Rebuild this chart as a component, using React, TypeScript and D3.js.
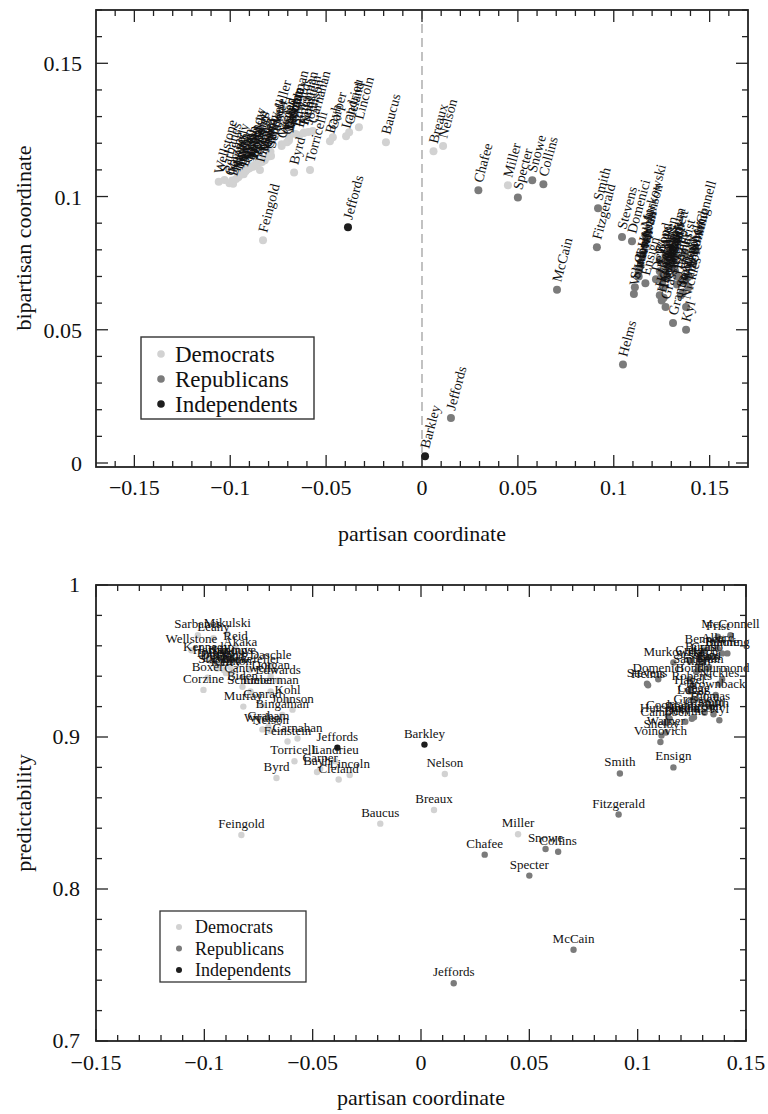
import React from 'react';
import * as d3 from 'd3';

// ---------- DATA ----------
const senatorNames = [
  'Wellstone','Sarbanes','Corzine','Boxer','Kennedy','Leahy','Harkin','Durbin','Levin','Dayton',
  'Reed','Mikulski','Stabenow','Kerry','Dodd','Schumer','Clinton','Reid','Akaka','Inouye',
  'Murray','Biden','Cantwell','Rockefeller','Conrad','Wyden','Nelson','Graham','Daschle','Lieberman',
  'Dorgan','Edwards','Bingaman','Kohl','Feinstein','Johnson','Carnahan','Hollings','Byrd','Torricelli',
  'Bayh','Carper','Landrieu','Cleland','Lincoln','Baucus','Feingold','Breaux','Nelson','Miller',
  'Jeffords','Barkley',
  'Jeffords','Chafee','Specter','Snowe','Collins','McCain','Smith','Fitzgerald','Stevens','Domenici',
  'Helms','Hutchinson','Ensign','Voinovich','Shelby','Warner','Campbell','Cochran','Murkowski','Lugar',
  'Gramm','Kyl','Nickles','McConnell','Frist','Bennett','Bunning','Thurmond','Brownback','Craig',
  'Sessions','Crapo','Inhofe','Santorum','Allard','Allen','Bond','Burns','DeWine','Enzi',
  'Grassley','Gregg','Hagel','Hatch','Hutchison','Lott','Roberts','Smith','Thomas','Thompson'
];

const senatorParty = [
  'D','D','D','D','D','D','D','D','D','D',
  'D','D','D','D','D','D','D','D','D','D',
  'D','D','D','D','D','D','D','D','D','D',
  'D','D','D','D','D','D','D','D','D','D',
  'D','D','D','D','D','D','D','D','D','D',
  'I','I',
  'R','R','R','R','R','R','R','R','R','R',
  'R','R','R','R','R','R','R','R','R','R',
  'R','R','R','R','R','R','R','R','R','R',
  'R','R','R','R','R','R','R','R','R','R',
  'R','R','R','R','R','R','R','R','R','R'
];

const partisanCoord = [
  -0.106,-0.103,-0.1004,-0.0985,-0.099,-0.0958,-0.097,-0.095,-0.094,-0.093,
  -0.092,-0.0894,-0.091,-0.090,-0.088,-0.0787,-0.087,-0.0856,-0.0834,-0.0845,
  -0.082,-0.0824,-0.080,-0.079,-0.0732,-0.0732,-0.0694,-0.0704,-0.0694,-0.0694,
  -0.0694,-0.066,-0.064,-0.0616,-0.0616,-0.0593,-0.057,-0.088,-0.0667,-0.0584,
  -0.048,-0.0465,-0.0396,-0.038,-0.0329,-0.0188,-0.0829,0.006,0.011,0.0448,
  -0.0386,0.0016,
  0.0151,0.0294,0.050,0.0575,0.0633,0.0704,0.0918,0.0912,0.1043,0.1095,
  0.1048,0.1148,0.1165,0.1105,0.111,0.113,0.113,0.114,0.1165,0.1253,
  0.1309,0.1377,0.1377,0.1428,0.137,0.131,0.1414,0.139,0.136,0.124,
  0.128,0.132,0.139,0.128,0.137,0.127,0.124,0.129,0.122,0.133,
  0.127,0.126,0.124,0.130,0.125,0.132,0.125,0.135,0.133,0.126
];

const bipartisanCoord = [
  0.1055,0.1062,0.1050,0.1048,0.1060,0.1072,0.1066,0.1080,0.1088,0.1084,
  0.1095,0.1110,0.1102,0.1106,0.1115,0.1152,0.1120,0.1125,0.1130,0.1100,
  0.1136,0.1140,0.1150,0.1168,0.1190,0.1196,0.1210,0.1204,0.1215,0.1222,
  0.1226,0.1235,0.1230,0.1240,0.1238,0.1242,0.1246,0.1112,0.1090,0.1100,
  0.1207,0.1222,0.1226,0.1241,0.1260,0.1204,0.0836,0.1170,0.1190,0.1042,
  0.0885,0.0025,
  0.0169,0.1024,0.0996,0.1061,0.1046,0.0650,0.0956,0.0810,0.0848,0.0832,
  0.0370,0.0780,0.0675,0.0634,0.066,0.070,0.072,0.074,0.0855,0.068,
  0.0525,0.0500,0.0585,0.0800,0.0790,0.0760,0.0750,0.0700,0.0640,0.072,
  0.070,0.072,0.066,0.073,0.068,0.078,0.076,0.074,0.069,0.070,
  0.0585,0.066,0.063,0.075,0.061,0.077,0.070,0.063,0.067,0.062
];

const predictability = [
  0.957,0.967,0.931,0.939,0.952,0.965,0.950,0.948,0.945,0.947,
  0.949,0.968,0.944,0.942,0.946,0.930,0.943,0.959,0.955,0.950,
  0.920,0.933,0.938,0.944,0.921,0.905,0.904,0.9066,0.947,0.930,
  0.940,0.937,0.9145,0.924,0.897,0.918,0.899,0.950,0.873,0.884,
  0.877,0.879,0.884,0.872,0.875,0.843,0.8355,0.852,0.8757,0.836,
  0.893,0.895,
  0.738,0.8226,0.8088,0.8263,0.8245,0.760,0.876,0.849,0.935,0.938,
  0.934,0.912,0.880,0.8967,0.901,0.903,0.909,0.914,0.949,0.924,
  0.916,0.911,0.935,0.967,0.966,0.957,0.955,0.938,0.9276,0.950,
  0.947,0.952,0.955,0.944,0.958,0.943,0.938,0.952,0.910,0.946,
  0.918,0.925,0.930,0.949,0.912,0.945,0.933,0.915,0.920,0.913
];

const partyKeys = ['D', 'R', 'I'];
const partyLabels = ['Democrats', 'Republicans', 'Independents'];
const partyColors: Record<string, string> = { D: '#d2d2d2', R: '#7b7b7b', I: '#1e1e1e' };

const topXTicks = [-0.15, -0.1, -0.05, 0, 0.05, 0.1, 0.15];
const topXTickLabels = ['\u22120.15', '\u22120.1', '\u22120.05', '0', '0.05', '0.1', '0.15'];
const topYTicks = [0, 0.05, 0.1, 0.15];
const topYTickLabels = ['0', '0.05', '0.1', '0.15'];
const botXTicks = [-0.15, -0.1, -0.05, 0, 0.05, 0.1, 0.15];
const botXTickLabels = ['\u22120.15', '\u22120.1', '\u22120.05', '0', '0.05', '0.1', '0.15'];
const botYTicks = [0.7, 0.8, 0.9, 1];
const botYTickLabels = ['0.7', '0.8', '0.9', '1'];

const FONT = '"Liberation Serif", "Times New Roman", "DejaVu Serif", serif';
const TXT: React.CSSProperties = { fontFamily: FONT };
const AX = '#222';

type FrameProps = {
  xs: d3.ScaleLinear<number, number>;
  ys: d3.ScaleLinear<number, number>;
  xMajor: number[];
  xMinor: number[];
  yMajor: number[];
  yMinor: number[];
};

function Frame({ xs, ys, xMajor, xMinor, yMajor, yMinor }: FrameProps) {
  const [x0, x1] = xs.range();
  const [y0, y1] = ys.range(); // y0 bottom, y1 top
  const lines: React.ReactElement[] = [];
  const add = (key: string, a: number, b: number, c: number, d: number) =>
    lines.push(<line key={key} x1={a} y1={b} x2={c} y2={d} stroke={AX} strokeWidth={1.3} />);
  xMajor.forEach((v, i) => {
    const x = xs(v);
    add('xb' + i, x, y0, x, y0 - 12);
    add('xt' + i, x, y1, x, y1 + 12);
  });
  xMinor.forEach((v, i) => {
    const x = xs(v);
    add('xbm' + i, x, y0, x, y0 - 6);
    add('xtm' + i, x, y1, x, y1 + 6);
  });
  yMajor.forEach((v, i) => {
    const y = ys(v);
    add('yl' + i, x0, y, x0 + 12, y);
    add('yr' + i, x1, y, x1 - 12, y);
  });
  yMinor.forEach((v, i) => {
    const y = ys(v);
    add('ylm' + i, x0, y, x0 + 6, y);
    add('yrm' + i, x1, y, x1 - 6, y);
  });
  return (
    <g>
      {lines}
      <rect x={x0} y={y1} width={x1 - x0} height={y0 - y1} fill="none" stroke={AX} strokeWidth={1.8} />
    </g>
  );
}

function isMajor(v: number, step: number) {
  return Math.abs(v / step - Math.round(v / step)) < 1e-6;
}

export default function App() {
  const n = senatorNames.length;
  const idx = d3.range(n);

  const xT = d3.scaleLinear().domain([-0.17, 0.17]).range([96, 748]);
  const yT = d3.scaleLinear().domain([-0.0015, 0.17]).range([467, 10]);
  const xB = d3.scaleLinear().domain([-0.15, 0.15]).range([96, 746]);
  const yB = d3.scaleLinear().domain([0.7, 1]).range([1041, 585]);

  const topXMinor = d3.range(-16, 17).map((i) => i / 100).filter((v) => !isMajor(v, 0.05));
  const topYMinor = d3.range(0, 18).map((i) => i / 100).filter((v) => !isMajor(v, 0.05));
  const botXMinor = d3.range(-14, 15).map((i) => i / 100).filter((v) => !isMajor(v, 0.05));
  const botYMinor = d3.range(36, 50).map((i) => i / 50).filter((v) => !isMajor(v, 0.1));

  const order = [...idx].sort((a, b) => partyKeys.indexOf(senatorParty[a]) - partyKeys.indexOf(senatorParty[b]));

  return (
    <svg
      width={768}
      height={1114}
      style={{ position: 'absolute', left: 0, top: 0, background: '#fff', fontFamily: FONT }}
    >
      <rect x={0} y={0} width={768} height={1114} fill="#fff" />

      {/* ---------- TOP PANEL ---------- */}
      <line x1={xT(0)} x2={xT(0)} y1={yT.range()[1]} y2={yT.range()[0]} stroke="#999" strokeWidth={1.2} strokeDasharray="9,5" />
      {order.map((i) => (
        <circle key={'td' + i} cx={xT(partisanCoord[i])} cy={yT(bipartisanCoord[i])} r={4} fill={partyColors[senatorParty[i]]} />
      ))}
      {order.map((i) => {
        const cx = xT(partisanCoord[i]);
        const cy = yT(bipartisanCoord[i]);
        return (
          <text key={'tl' + i} style={TXT} transform={`translate(${cx + 4},${cy - 7}) rotate(-75)`} fontSize={14} fill="#111">
            {senatorNames[i]}
          </text>
        );
      })}
      <Frame xs={xT} ys={yT} xMajor={topXTicks} xMinor={topXMinor} yMajor={topYTicks} yMinor={topYMinor} />
      {topXTicks.map((v, i) => (
        <text key={'txl' + i} style={TXT} x={xT(v)} y={495} fontSize={22} textAnchor="middle" fill="#111">
          {topXTickLabels[i]}
        </text>
      ))}
      {topYTicks.map((v, i) => (
        <text key={'tyl' + i} style={TXT} x={82} y={yT(v) + 8} fontSize={22} textAnchor="end" fill="#111">
          {topYTickLabels[i]}
        </text>
      ))}
      <text style={TXT} x={422} y={541} fontSize={22} textAnchor="middle" fill="#111">partisan coordinate</text>
      <text style={TXT} transform={`translate(31,238) rotate(-90)`} fontSize={22} textAnchor="middle" fill="#111">
        bipartisan coordinate
      </text>
      <g>
        <rect x={141} y={337} width={173} height={82} fill="#fff" stroke="#333" strokeWidth={1.4} />
        {partyKeys.map((k, i) => (
          <g key={'tleg' + k}>
            <circle cx={161} cy={354 + 25 * i} r={3.8} fill={partyColors[k]} />
            <text style={TXT} x={175} y={361.5 + 25 * i} fontSize={23} fill="#111">{partyLabels[i]}</text>
          </g>
        ))}
      </g>

      {/* ---------- BOTTOM PANEL ---------- */}
      {order.map((i) => (
        <circle key={'bd' + i} cx={xB(partisanCoord[i])} cy={yB(predictability[i])} r={3.2} fill={partyColors[senatorParty[i]]} />
      ))}
      {order.map((i) => (
        <text key={'bl' + i} style={TXT} x={xB(partisanCoord[i])} y={yB(predictability[i]) - 7} fontSize={13} textAnchor="middle" fill="#111">
          {senatorNames[i]}
        </text>
      ))}
      <Frame xs={xB} ys={yB} xMajor={botXTicks} xMinor={botXMinor} yMajor={botYTicks} yMinor={botYMinor} />
      {botXTicks.map((v, i) => (
        <text key={'bxl' + i} style={TXT} x={xB(v)} y={1070} fontSize={22} textAnchor="middle" fill="#111">
          {botXTickLabels[i]}
        </text>
      ))}
      {botYTicks.map((v, i) => (
        <text key={'byl' + i} style={TXT} x={80} y={yB(v) + 7} fontSize={22} textAnchor="end" fill="#111">
          {botYTickLabels[i]}
        </text>
      ))}
      <text style={TXT} x={421} y={1105} fontSize={22} textAnchor="middle" fill="#111">partisan coordinate</text>
      <text style={TXT} transform={`translate(31,813) rotate(-90)`} fontSize={22} textAnchor="middle" fill="#111">
        predictability
      </text>
      <g>
        <rect x={160} y={911} width={146} height={71} fill="#fff" stroke="#333" strokeWidth={1.3} />
        {partyKeys.map((k, i) => (
          <g key={'bleg' + k}>
            <circle cx={179} cy={927 + 21.5 * i} r={3} fill={partyColors[k]} />
            <text style={TXT} x={195} y={933 + 21.5 * i} fontSize={18} fill="#111">{partyLabels[i]}</text>
          </g>
        ))}
      </g>
    </svg>
  );
}
